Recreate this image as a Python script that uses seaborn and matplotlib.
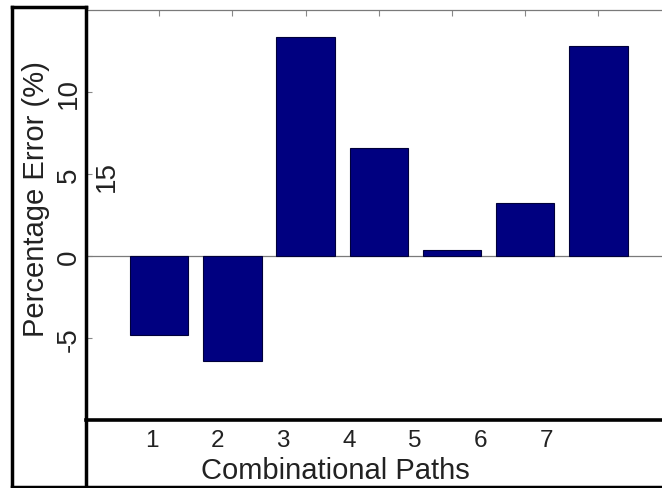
import numpy as np
import pandas as pd
import matplotlib
matplotlib.use("Agg")
import matplotlib.pyplot as plt
from matplotlib.lines import Line2D
import seaborn as sns

# ---- data ----
paths = [1, 2, 3, 4, 5, 6, 7]
errors = [-4.8, -6.4, 13.4, 6.6, 0.4, 3.25, 12.8]
ytick_vals = [-5, 0, 5, 10]
ytick_labels = ["-5", "0", "5", "10"]
xtick_labels = ["1", "2", "3", "4", "5", "6", "7"]
xlabel = "Combinational Paths"
ylabel = "Percentage Error (%)"
stray_label = "15"

sns.set_style("white")
plt.rcParams["font.family"] = ["Liberation Sans", "DejaVu Sans"]

W, H = 662, 489
fig = plt.figure(figsize=(W / 100, H / 100), dpi=100)

# main axes (bars)
ax_l, ax_r, ax_b, ax_t = 86, 671.6, 421.3, 11.3
ax = fig.add_axes([ax_l / W, 1 - ax_b / H, (ax_r - ax_l) / W, (ax_b - ax_t) / H])
df = pd.DataFrame({"path": paths, "err": errors})
sns.barplot(data=df, x="path", y="err", native_scale=True, width=0.8,
            color="#000080", saturation=1, edgecolor="#00003a", linewidth=0.8,
            ax=ax, zorder=3)
ax.axhline(0, color="#7a7a7a", lw=0.9, zorder=2)
ax.set_xlim(0, 8)
ax.set_ylim(-10, 15)
ax.set_xticks(paths)
ax.tick_params(axis="x", bottom=False, top=True, labelbottom=False, labeltop=False,
               direction="in", length=4, color="#888888", width=0.8)
ax.set_yticks(ytick_vals)
ax.set_yticklabels(ytick_labels, rotation=90, va="center", fontsize=20, color="#222222")
ax.tick_params(axis="y", left=True, right=True, direction="in", length=4,
               color="#888888", width=0.8, pad=3)
ax.set_xlabel("")
ax.set_ylabel(ylabel, fontsize=21, color="#222222")
ax.yaxis.set_label_coords((50 - ax_l) / (ax_r - ax_l), (ax_b - 199) / (ax_b - ax_t))
for s in ["left", "right"]:
    ax.spines[s].set_visible(False)
ax.spines["top"].set_color("#7a7a7a")
ax.spines["top"].set_linewidth(0.9)
ax.spines["bottom"].set_color("black")
ax.spines["bottom"].set_linewidth(2.6)

# secondary bottom axis carrying the path tick labels
ax2 = fig.add_axes(ax.get_position(), facecolor="none")
ax2.set_xlim(0, 8.91)
ax2.set_xticks(paths)
ax2.set_xticklabels(xtick_labels, fontsize=17.5, color="#222222")
ax2.tick_params(axis="x", direction="in", length=4, color="#888888", width=0.8, pad=6)
ax2.set_yticks([])
for s in ax2.spines.values():
    s.set_visible(False)
ax2.set_xlabel(xlabel, fontsize=21, color="#222222")
ax2.xaxis.set_label_coords((335 - ax_l) / (ax_r - ax_l), (ax_b - 457) / (ax_b - ax_t))

fig.text(107 / W, 1 - 177 / H, stray_label, rotation=90, ha="center", va="center",
         fontsize=20, color="#222222")

# black frame lines
def fline(x0, y0, x1, y1, lw=2.5):
    fig.add_artist(Line2D([x0 / W, x1 / W], [1 - y0 / H, 1 - y1 / H],
                          transform=fig.transFigure, color="black", lw=lw,
                          solid_capstyle="projecting"))

fline(12, 7.5, 12, 489)
fline(12, 7.5, 86, 7.5)
fline(86, 7.5, 86, 489)
fline(12, 487.5, 662, 487.5)

fig.savefig("out.png", dpi=100)
